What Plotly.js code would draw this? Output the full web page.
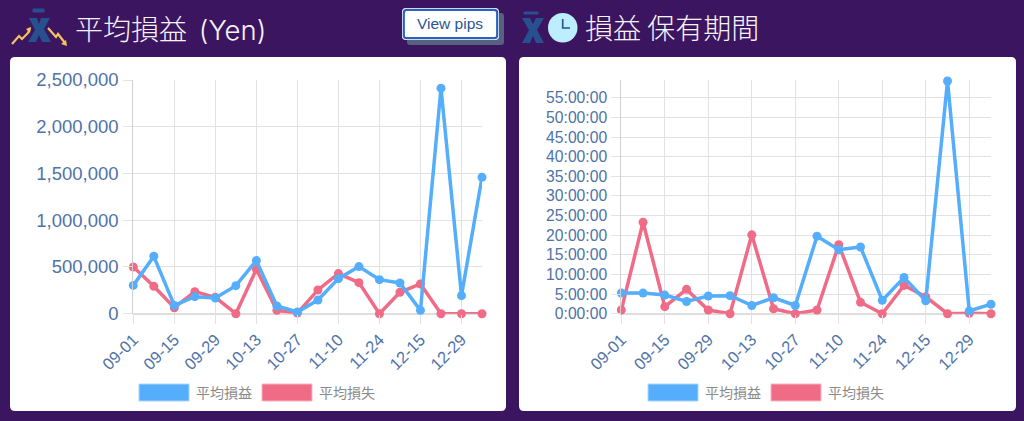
<!DOCTYPE html>
<html><head><meta charset="utf-8">
<script src="https://cdn.plot.ly/plotly-3.0.1.min.js"></script>
<style>html,body{margin:0;padding:0;background:#3c1561;overflow:hidden}#c{width:1024px;height:421px}</style>
</head><body><div id="c"></div>
<script>
const weeks = ['09-01','09-08','09-15','09-22','09-29','10-06','10-13','10-20','10-27','11-03','11-10','11-17','11-24','12-01','12-15','12-22','12-29','01-05'];
const tickWeeks = ['09-01','09-15','09-29','10-13','10-27','11-10','11-24','12-15','12-29'];
const avgProfitYen = [303000,614000,89000,182000,168000,300000,568000,82000,18000,146000,375000,504000,364000,329000,36000,2413000,193000,1460000];
const avgLossYen = [500000,293000,64000,236000,175000,0,475000,36000,7000,254000,429000,332000,0,229000,318000,0,0,0];
const profitHours = [5.25,5.25,4.75,3.1,4.5,4.6,2.1,4.07,2.1,19.75,16.3,17.0,3.4,9.24,3.3,59.3,0.7,2.4];
const lossHours = [0.93,23.3,1.8,6.2,0.93,0,20.1,1.27,0,0.93,17.6,2.9,0,7.2,4.3,0,0.1,0];
const hourTickVals = [0,5,10,15,20,25,30,35,40,45,50,55];
const hourTickText = ['0:00:00','5:00:00','10:00:00','15:00:00','20:00:00','25:00:00','30:00:00','35:00:00','40:00:00','45:00:00','50:00:00','55:00:00'];
const profitName = '平均損益', lossName = '平均損失';
const blue = '#54aefb', red = '#f06b86', tickCol = '#4f72a8', grid = '#e2e2e2';

const W = 1024, H = 421;
const px = v => v / W, py = v => 1 - v / H;
const rr = (x0, y0, x1, y1, r) => `M${px(x0+r)},${py(y0)} L${px(x1-r)},${py(y0)} Q${px(x1)},${py(y0)} ${px(x1)},${py(y0+r)} L${px(x1)},${py(y1-r)} Q${px(x1)},${py(y1)} ${px(x1-r)},${py(y1)} L${px(x0+r)},${py(y1)} Q${px(x0)},${py(y1)} ${px(x0)},${py(y1-r)} L${px(x0)},${py(y0+r)} Q${px(x0)},${py(y0)} ${px(x0+r)},${py(y0)} Z`;
const poly = pts => 'M' + pts.map(p => `${px(p[0])},${py(p[1])}`).join(' L');
const shp = (path, fill, line, lw) => ({type:'path', xref:'paper', yref:'paper', layer:'below', path, fillcolor: fill||'rgba(0,0,0,0)', line:{color: line||'rgba(0,0,0,0)', width: lw||0}});
const rect = (x0,y0,x1,y1,fill,line) => ({type:'rect', xref:'paper', yref:'paper', layer:'below', x0:px(x0), x1:px(x1), y0:py(y0), y1:py(y1), fillcolor:fill, line:{color:line||fill, width:1}});
const txt = (x,y,text,size,color,anchor,family,weight) => ({xref:'paper', yref:'paper', x:px(x), y:py(y), xanchor:anchor||'left', yanchor:'middle', showarrow:false, text, font:{size, color, family:family||'"Noto Sans CJK JP"', weight:weight||400}});
const xbar = '#27508f', gold = '#f2c35f';

const shapes = [
  shp(rr(10,57,506,411,5),'#fff'),
  shp(rr(519,57,1016,411,5),'#fff'),
  // left logo
  rect(33,9,44,12,xbar),
  shp(poly([[29,18],[37,18],[39,24],[41,18],[50,18],[44,29],[51,42],[42,42],[39,35],[36,42],[28,42],[35,30]]),xbar),
  shp(poly([[12,44],[19,36],[22,39],[28,33],[30,28]]),null,gold,2.2),
  shp(poly([[26,29],[31,27],[30,33]]),gold),
  shp(poly([[48,28],[56,37],[58,34],[65,43]]),null,gold,2.2),
  shp(poly([[61,44],[67,46],[66,40]]),gold),
  // right logo
  rect(524,12,538,14,xbar),
  shp(poly([[522,18],[530,18],[533,24],[536,18],[544,18],[537,30],[544,43],[536,43],[533,36],[530,43],[522,43],[529,30]]),xbar),
  {type:'circle', xref:'paper', yref:'paper', layer:'below', x0:px(548), x1:px(577.5), y0:py(13), y1:py(42.5), fillcolor:'#bdeefd', line:{color:'#bdeefd',width:0}},
  shp(poly([[562.7,19],[562.7,28],[570,28]]),null,'#27508f',1.6),
  // button
  shp(rr(407,13,504,45,3),'#55617f'),
  shp(rr(402,8,499,40,4),'#fff'),
  shp(rr(403.8,9.8,497.2,38.2,3),'#fff','#2a63bd',2.2),
  // legends
  rect(139,384,189,401,blue,'#a9d6fd'),
  rect(262,384,312,401,red,'#f8b5c2'),
  rect(648,384,698,401,blue,'#a9d6fd'),
  rect(771,384,821,401,red,'#f8b5c2')
];
const annotations = [
  txt(73,24.5,'平均損益<span style="font-family:Inter;font-size:42px"> </span><span style="font-family:Inter;font-size:27.5px">(Yen)</span>',28,'#f7f4f9',null,null,300),
  txt(583,27,'損益 保有期間',28,'#f7f4f9',null,null,300),
  txt(450,24,'View pips',15.5,'#2d5594','center','"Liberation Sans"'),
  txt(194,392,profitName,14,'#8a8a8a'),
  txt(317,392,lossName,14,'#8a8a8a'),
  txt(703,392,profitName,14,'#8a8a8a'),
  txt(826,392,lossName,14,'#8a8a8a')
];
const tr = (y,name,color,xa,ya) => ({x:weeks, y, name, xaxis:xa, yaxis:ya, type:'scatter', mode:'lines+markers', cliponaxis:false, line:{color,width:3.5}, marker:{color,size:9}, hoverinfo:'x+y'});
const data = [
  tr(avgLossYen,lossName,red,'x','y'),
  tr(avgProfitYen,profitName,blue,'x','y'),
  tr(lossHours,lossName,red,'x2','y2'),
  tr(profitHours,profitName,blue,'x2','y2')
];
const xax = (d) => ({domain:d, type:'category', categoryorder:'array', categoryarray:weeks, range:[0,17], tickmode:'array', tickvals:tickWeeks, ticktext:tickWeeks, tickangle:-45, tickfont:{family:'"Liberation Sans"',size:16.5,color:tickCol}, ticks:'outside', ticklen:9, tickcolor:grid, gridcolor:grid, gridwidth:1, showgrid:true, zeroline:false, showline:false});
const yDom = [1-313.7/H, 1-80/H];
const layout = {
  width:W, height:H, margin:{l:0,r:0,t:0,b:0}, paper_bgcolor:'#3c1561', plot_bgcolor:'rgba(0,0,0,0)', showlegend:false,
  shapes, annotations,
  xaxis:Object.assign(xax([px(133.3),px(482)]),{anchor:'y'}),
  xaxis2:Object.assign(xax([px(621.3),px(991)]),{anchor:'y2'}),
  yaxis:{domain:yDom, anchor:'x', range:[0,2500000], tickmode:'array', tickvals:[0,500000,1000000,1500000,2000000,2500000], ticktext:['0','500,000','1,000,000','1,500,000','2,000,000','2,500,000'], tickfont:{family:'"Liberation Sans"',size:18.5,color:tickCol}, ticks:'outside', ticklen:9, tickcolor:grid, gridcolor:grid, zeroline:true, zerolinecolor:'#dedede', zerolinewidth:2, showline:true, linecolor:'#cfcfcf', linewidth:1, ticklabelstandoff:1},
  yaxis2:{domain:yDom, anchor:'x2', range:[0,59.55], tickmode:'array', tickvals:hourTickVals, ticktext:hourTickText, tickfont:{family:'"Liberation Sans"',size:15.7,color:tickCol}, ticks:'outside', ticklen:9, tickcolor:grid, gridcolor:grid, zeroline:true, zerolinecolor:'#dedede', zerolinewidth:2, showline:true, linecolor:'#cfcfcf', linewidth:1, ticklabelstandoff:1}
};
Plotly.newPlot('c', data, layout, {displayModeBar:false, staticPlot:true});
</script></body></html>
